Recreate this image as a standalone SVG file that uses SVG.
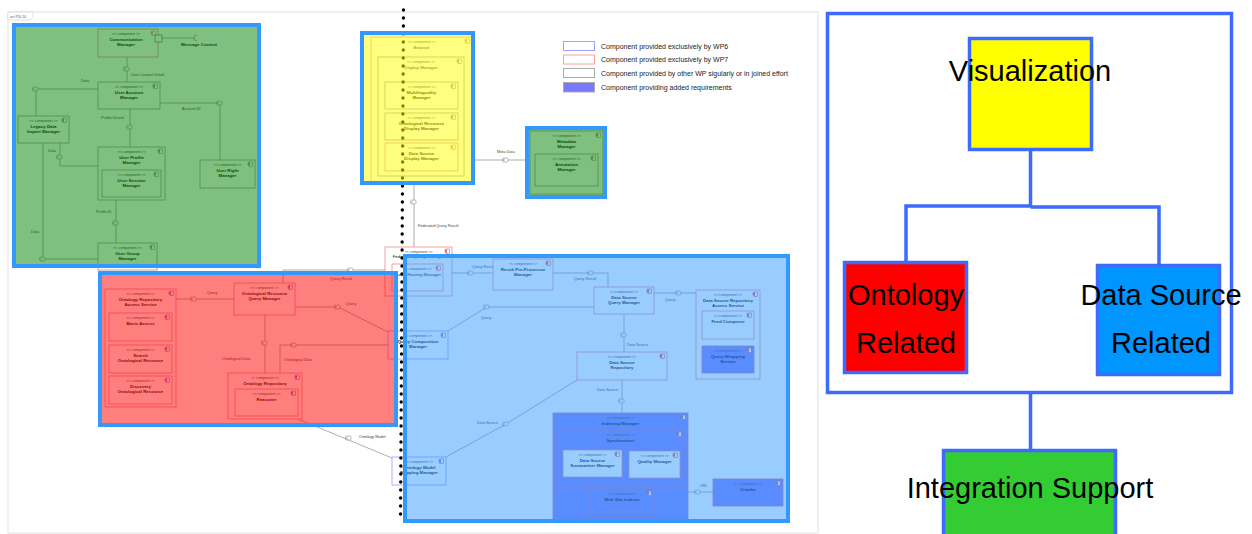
<svg xmlns="http://www.w3.org/2000/svg" xmlns:xlink="http://www.w3.org/1999/xlink" width="1252" height="534" viewBox="0 0 1252 534">
<style>
.st{font-family:"Liberation Sans",Arial,sans-serif;font-size:3.6px;fill:#444;text-anchor:middle}
.nm{font-family:"Liberation Sans",Arial,sans-serif;font-size:4.4px;font-weight:bold;fill:#111;text-anchor:middle}
.lb{font-family:"Liberation Sans",Arial,sans-serif;font-size:3.8px;fill:#444}
.lg{font-family:"Liberation Sans",Arial,sans-serif;font-size:7px;fill:#222}
.big{font-family:"Liberation Sans",Arial,sans-serif;font-size:29px;fill:#000;text-anchor:middle}
.cg{fill:#fff;stroke:#9a9a9a;stroke-width:0.8}
.cr{fill:#fff;stroke:#f08a8a;stroke-width:0.8}
.cb{fill:#fff;stroke:#9a9aff;stroke-width:0.8}
.cd{fill:#7f7fff;stroke:#d07090;stroke-width:0.8}
.con{fill:none;stroke:#9a9a9a;stroke-width:0.8}
.ov{stroke:#3399ff;stroke-width:4}
.rc{fill:none;stroke:#3d6bff;stroke-width:3.5}
.rb{stroke:#3d6bff;stroke-width:3.5}
</style>
<defs>
<g id="lol"><circle r="2.2" fill="#fff" stroke="#8a8a8a" stroke-width="0.6"/><path d="M-2.4,-2.6 A3.6,3.6 0 0 0 -2.4,2.6" fill="none" stroke="#8a8a8a" stroke-width="0.6"/></g>
<g id="ic" fill="#fff" stroke-width="0.5"><rect x="0.8" y="0" width="3.6" height="4.6"/><rect x="0" y="0.9" width="1.8" height="0.9"/><rect x="0" y="2.7" width="1.8" height="0.9"/></g>
</defs>
<rect width="1252" height="534" fill="#fff"/>

<g id="frame">
<rect x="8" y="12" width="810" height="521" fill="none" stroke="#e2e2e2" stroke-width="1"/>
<path d="M8,12 H33 V17 L30,20 H8 Z" fill="#fff" stroke="#cfcfcf" stroke-width="0.6"/>
<text x="10" y="18" style="font-family:'Liberation Sans',sans-serif;font-size:3.4px;fill:#555">act P10.10</text>
</g>

<g id="connectors">
<path class="con" d="M162,38 H194"/>
<path d="M197,35 A3,3 0 0 0 197,41" fill="none" stroke="#8a8a8a" stroke-width="0.7"/>
<path class="con" d="M127,57 V82"/>
<path class="con" d="M98,89 H36 V116"/>
<path class="con" d="M160,103 H220 V160"/>
<path class="con" d="M130,109 V147"/>
<path class="con" d="M60,143 V166 H98"/>
<path class="con" d="M116,200 V243"/>
<path class="con" d="M43,143 V259 H98"/>
<path class="con" d="M458,160 H530"/>
<path class="con" d="M414,176 V247"/>
<path class="con" d="M176,299 H234"/>
<path class="con" d="M265,315 V373"/>
<path class="con" d="M280,373 V345 H388"/>
<path class="con" d="M295,307 H338 L388,332"/>
<path class="con" d="M283,283 V270 H385"/>
<path class="con" d="M298,419 L392,458"/>
<path class="con" d="M443,273 H493"/>
<path class="con" d="M553,273 H608 V287"/>
<path class="con" d="M654,293 H696"/>
<path class="con" d="M594,307 H487 L448,331"/>
<path class="con" d="M624,314 V352"/>
<path class="con" d="M622,380 V413"/>
<path class="con" d="M577,380 L506,424 L446,457"/>
<path class="con" d="M688,492 H713"/>
<use href="#lol" x="127" y="69"/>
<use href="#lol" x="36" y="89"/>
<use href="#lol" x="220" y="103"/>
<use href="#lol" x="130" y="127"/>
<use href="#lol" x="60" y="157"/>
<use href="#lol" x="116" y="223"/>
<use href="#lol" x="43" y="259"/>
<use href="#lol" x="506" y="160"/>
<use href="#lol" x="414" y="202"/>
<use href="#lol" x="194" y="299"/>
<use href="#lol" x="265" y="343"/>
<use href="#lol" x="294" y="345"/>
<use href="#lol" x="338" y="307"/>
<use href="#lol" x="351" y="270"/>
<use href="#lol" x="349" y="438"/>
<use href="#lol" x="471" y="273"/>
<use href="#lol" x="591" y="273"/>
<use href="#lol" x="679" y="293"/>
<use href="#lol" x="487" y="307"/>
<use href="#lol" x="624" y="335"/>
<use href="#lol" x="622" y="401"/>
<use href="#lol" x="506" y="424"/>
<use href="#lol" x="698" y="492"/>
<text class="nm" x="199" y="46" style="text-anchor:middle">Message Context</text>
<text class="lb" x="131" y="76">User Contact Detail</text>
<text class="lb" x="81" y="82">Data</text>
<text class="lb" x="182" y="110">Account ID</text>
<text class="lb" x="101" y="119">Profile Details</text>
<text class="lb" x="48" y="152">Data</text>
<text class="lb" x="96" y="213">Profile ID</text>
<text class="lb" x="31" y="233">Data</text>
<text class="lb" x="497" y="153">Meta Data</text>
<text class="lb" x="418" y="227">Federated Query Result</text>
<text class="lb" x="207" y="294">Query</text>
<text class="lb" x="222" y="360">Ontological Data</text>
<text class="lb" x="284" y="361">Ontological Data</text>
<text class="lb" x="346" y="305">Query</text>
<text class="lb" x="330" y="280">Query Result</text>
<text class="lb" x="359" y="438">Ontology Model</text>
<text class="lb" x="472" y="268">Query Result</text>
<text class="lb" x="574" y="280">Query Result</text>
<text class="lb" x="665" y="301">Query</text>
<text class="lb" x="481" y="319">Query</text>
<text class="lb" x="627" y="346">Data Source</text>
<text class="lb" x="597" y="391">Data Source</text>
<text class="lb" x="477" y="424">Data Source</text>
<text class="lb" x="700" y="487">URL</text>
</g>

<g id="comp-communication-manager"><rect class="cr" x="98" y="29" width="60" height="28"/><use href="#ic" x="151" y="31" stroke="#e08040"/><text class="st" x="126" y="35">&lt;&lt; component &gt;&gt;</text><text class="nm" x="126" y="41">Communication</text><text class="nm" x="126" y="46">Manager</text>
<rect x="155" y="35" width="7" height="7" fill="#fff" stroke="#555" stroke-width="0.6"/></g>
<g id="comp-user-account-manager"><rect class="cg" x="98" y="82" width="62" height="27"/><use href="#ic" x="153" y="84" stroke="#777"/><text class="st" x="129" y="88">&lt;&lt; component &gt;&gt;</text><text class="nm" x="129" y="94">User Account</text><text class="nm" x="129" y="99">Manager</text></g>
<g id="comp-legacy-data-import-manager"><rect class="cg" x="18" y="116" width="51" height="27"/><use href="#ic" x="62" y="118" stroke="#777"/><text class="st" x="43.5" y="122">&lt;&lt; component &gt;&gt;</text><text class="nm" x="43.5" y="128">Legacy Data</text><text class="nm" x="43.5" y="133">Import Manager</text></g>
<g id="comp-user-right-manager"><rect class="cg" x="200" y="160" width="55" height="28"/><use href="#ic" x="248" y="162" stroke="#777"/><text class="st" x="227.5" y="166">&lt;&lt; component &gt;&gt;</text><text class="nm" x="227.5" y="172">User Right</text><text class="nm" x="227.5" y="177">Manager</text></g>
<g id="comp-user-profile-manager"><rect class="cg" x="98" y="147" width="67" height="53"/><use href="#ic" x="158" y="149" stroke="#777"/><text class="st" x="131.5" y="153">&lt;&lt; component &gt;&gt;</text><text class="nm" x="131.5" y="159">User Profile</text><text class="nm" x="131.5" y="164">Manager</text>
<rect class="cg" x="102" y="170" width="59" height="27"/><use href="#ic" x="154" y="172" stroke="#777"/><text class="st" x="131.5" y="176">&lt;&lt; component &gt;&gt;</text><text class="nm" x="131.5" y="182">User Session</text><text class="nm" x="131.5" y="187">Manager</text></g>
<g id="comp-user-group-manager"><rect class="cg" x="98" y="243" width="59" height="27"/><use href="#ic" x="150" y="245" stroke="#777"/><text class="st" x="127.5" y="249">&lt;&lt; component &gt;&gt;</text><text class="nm" x="127.5" y="255">User Group</text><text class="nm" x="127.5" y="260">Manager</text></g>

<g id="comp-browser"><rect class="cr" x="371" y="37" width="101" height="145"/><use href="#ic" x="465" y="39" stroke="#e08040"/><text class="st" x="421.5" y="43">&lt;&lt; component &gt;&gt;</text><text class="nm" x="421.5" y="49" style="font-weight:normal">Browser</text>
<rect class="cg" x="378" y="57" width="86" height="119"/><use href="#ic" x="457" y="59" stroke="#777"/><text class="st" x="421" y="63">&lt;&lt; component &gt;&gt;</text><text class="nm" x="421" y="69" style="font-weight:normal">Display Manager</text>
<rect class="cg" x="385" y="82" width="73" height="27"/><use href="#ic" x="451" y="84" stroke="#777"/><text class="st" x="421.5" y="88">&lt;&lt; component &gt;&gt;</text><text class="nm" x="421.5" y="94">Multilinguality</text><text class="nm" x="421.5" y="99">Manager</text>
<rect class="cg" x="385" y="113" width="73" height="27"/><use href="#ic" x="451" y="115" stroke="#777"/><text class="st" x="421.5" y="119">&lt;&lt; component &gt;&gt;</text><text class="nm" x="421.5" y="125">Ontological Resource</text><text class="nm" x="421.5" y="130">Display Manager</text>
<rect class="cr" x="385" y="143" width="73" height="28"/><use href="#ic" x="451" y="145" stroke="#e08040"/><text class="st" x="421.5" y="149">&lt;&lt; component &gt;&gt;</text><text class="nm" x="421.5" y="155">Data Source</text><text class="nm" x="421.5" y="160">Display Manager</text></g>

<g id="comp-metadata-manager"><rect class="cg" x="530" y="131" width="73" height="63"/><use href="#ic" x="596" y="133" stroke="#b07030"/><text class="st" x="566.5" y="137">&lt;&lt; component &gt;&gt;</text><text class="nm" x="566.5" y="143">Metadata</text><text class="nm" x="566.5" y="148">Manager</text>
<rect class="cg" x="535" y="154" width="63" height="32"/><use href="#ic" x="591" y="156" stroke="#b07030"/><text class="st" x="566.5" y="160">&lt;&lt; component &gt;&gt;</text><text class="nm" x="566.5" y="166">Annotation</text><text class="nm" x="566.5" y="171">Manager</text></g>

<g id="comp-ontology-repository-access-service"><rect class="cr" x="105" y="289" width="71" height="118"/><use href="#ic" x="169" y="291" stroke="#9040c0"/><text class="st" x="140.5" y="295">&lt;&lt; component &gt;&gt;</text><text class="nm" x="140.5" y="301">Ontology Repository</text><text class="nm" x="140.5" y="306">Access Service</text>
<rect class="cr" x="109" y="313" width="63" height="28"/><use href="#ic" x="165" y="315" stroke="#9040c0"/><text class="st" x="140.5" y="319">&lt;&lt; component &gt;&gt;</text><text class="nm" x="140.5" y="325">Basic Access</text>
<rect class="cr" x="109" y="345" width="63" height="28"/><use href="#ic" x="165" y="347" stroke="#9040c0"/><text class="st" x="140.5" y="351">&lt;&lt; component &gt;&gt;</text><text class="nm" x="140.5" y="357">Search</text><text class="nm" x="140.5" y="362">Ontological Resource</text>
<rect class="cr" x="109" y="376" width="63" height="28"/><use href="#ic" x="165" y="378" stroke="#9040c0"/><text class="st" x="140.5" y="382">&lt;&lt; component &gt;&gt;</text><text class="nm" x="140.5" y="388">Discovery</text><text class="nm" x="140.5" y="393">Ontological Resource</text></g>
<g id="comp-ontological-resource-query-manager"><rect class="cr" x="234" y="283" width="61" height="32"/><use href="#ic" x="288" y="285" stroke="#9040c0"/><text class="st" x="264.5" y="289">&lt;&lt; component &gt;&gt;</text><text class="nm" x="264.5" y="295">Ontological Resource</text><text class="nm" x="264.5" y="300">Query Manager</text></g>
<g id="comp-ontology-repository"><rect class="cr" x="228" y="373" width="74" height="46"/><use href="#ic" x="295" y="375" stroke="#9040c0"/><text class="st" x="265" y="379">&lt;&lt; component &gt;&gt;</text><text class="nm" x="265" y="385">Ontology Repository</text>
<rect class="cr" x="235" y="389" width="63" height="27"/><use href="#ic" x="291" y="391" stroke="#9040c0"/><text class="st" x="266.5" y="395">&lt;&lt; component &gt;&gt;</text><text class="nm" x="266.5" y="401">Reasoner</text></g>

<g id="comp-federated-query-manager"><rect class="cr" x="385" y="247" width="67" height="49"/><use href="#ic" x="445" y="249" stroke="#e04040"/><text class="st" x="418.5" y="253">&lt;&lt; component &gt;&gt;</text><text class="nm" x="418.5" y="258" style="font-weight:normal">Federated Query Manager</text>
<rect class="cr" x="392" y="264" width="51" height="27"/><use href="#ic" x="436" y="266" stroke="#e04040"/><text class="st" x="417.5" y="270">&lt;&lt; component &gt;&gt;</text><text class="nm" x="417.5" y="276" style="font-weight:normal">Query Routing Manager</text></g>
<g id="comp-result-pre-processor-manager"><rect class="cr" x="493" y="259" width="60" height="31"/><use href="#ic" x="546" y="261" stroke="#c03040"/><text class="st" x="523" y="265">&lt;&lt; component &gt;&gt;</text><text class="nm" x="523" y="271">Result Pre-Processor</text><text class="nm" x="523" y="276">Manager</text></g>
<g id="comp-data-source-query-manager"><rect class="cr" x="594" y="287" width="60" height="27"/><use href="#ic" x="647" y="289" stroke="#c03040"/><text class="st" x="624" y="293">&lt;&lt; component &gt;&gt;</text><text class="nm" x="624" y="299">Data Source</text><text class="nm" x="624" y="304">Query Manager</text></g>
<g id="comp-data-source-repository-access-service"><rect class="cr" x="696" y="290" width="64" height="89"/><use href="#ic" x="753" y="292" stroke="#c03040"/><text class="st" x="728" y="296">&lt;&lt; component &gt;&gt;</text><text class="nm" x="728" y="302">Data Source Repository</text><text class="nm" x="728" y="307">Access Service</text>
<rect class="cr" x="702" y="311" width="52" height="28"/><use href="#ic" x="747" y="313" stroke="#c03040"/><text class="st" x="728" y="317">&lt;&lt; component &gt;&gt;</text><text class="nm" x="728" y="323">Feed Composer</text>
<rect class="cd" x="702" y="346" width="52" height="27"/><use href="#ic" x="747" y="348" stroke="#c03040"/><text class="st" x="728" y="352">&lt;&lt; component &gt;&gt;</text><text class="nm" x="728" y="358">Query Wrapping</text><text class="nm" x="728" y="363">Service</text></g>
<g id="comp-query-composition-manager"><rect class="cb" x="388" y="331" width="60" height="28"/><use href="#ic" x="441" y="333" stroke="#4060ff"/><text class="st" x="418" y="337">&lt;&lt; component &gt;&gt;</text><text class="nm" x="418" y="343">Query Composition</text><text class="nm" x="418" y="348">Manager</text></g>
<g id="comp-data-source-repository"><rect class="cr" x="577" y="352" width="90" height="28"/><use href="#ic" x="660" y="354" stroke="#c03040"/><text class="st" x="622" y="358">&lt;&lt; component &gt;&gt;</text><text class="nm" x="622" y="364">Data Source</text><text class="nm" x="622" y="369">Repository</text></g>
<g id="comp-ontology-model-mapping-manager"><rect class="cb" x="392" y="457" width="54" height="28"/><use href="#ic" x="439" y="459" stroke="#4060ff"/><text class="st" x="419" y="463">&lt;&lt; component &gt;&gt;</text><text class="nm" x="419" y="469">Ontology Model</text><text class="nm" x="419" y="474">Mapping Manager</text></g>
<g id="comp-indexing-manager"><rect class="cd" x="553" y="413" width="135" height="109"/><use href="#ic" x="681" y="415" stroke="#c03040"/><text class="st" x="620.5" y="419">&lt;&lt; component &gt;&gt;</text><text class="nm" x="620.5" y="425">Indexing Manager</text>
<rect class="cd" x="557" y="430" width="127" height="56"/><use href="#ic" x="677" y="432" stroke="#c03040"/><text class="st" x="620.5" y="436">&lt;&lt; component &gt;&gt;</text><text class="nm" x="620.5" y="442">Synchronizer</text>
<rect class="cr" x="563" y="450" width="59" height="27"/><use href="#ic" x="615" y="452" stroke="#c03040"/><text class="st" x="592.5" y="456">&lt;&lt; component &gt;&gt;</text><text class="nm" x="592.5" y="462">Data Source</text><text class="nm" x="592.5" y="467">Summarizer Manager</text>
<rect class="cr" x="629" y="451" width="51" height="27"/><use href="#ic" x="673" y="453" stroke="#c03040"/><text class="st" x="654.5" y="457">&lt;&lt; component &gt;&gt;</text><text class="nm" x="654.5" y="463">Quality Manager</text>
<rect class="cd" x="590" y="489" width="64" height="28"/><use href="#ic" x="647" y="491" stroke="#c03040"/><text class="st" x="622" y="495">&lt;&lt; component &gt;&gt;</text><text class="nm" x="622" y="501">Web Site Indexer</text></g>
<g id="comp-crawler"><rect class="cd" x="713" y="479" width="70" height="27"/><use href="#ic" x="776" y="481" stroke="#c03040"/><text class="st" x="748" y="485">&lt;&lt; component &gt;&gt;</text><text class="nm" x="748" y="491">Crawler</text></g>

<line id="divider" x1="403.5" y1="10" x2="400.5" y2="521" stroke="#000" stroke-width="3.4" stroke-linecap="round" stroke-dasharray="0 8"/>

<g id="overlays">
<rect class="ov" x="14" y="25" width="245" height="241" fill="#008000" fill-opacity="0.5"/>
<rect class="ov" x="362" y="33" width="111" height="150" fill="#ffff00" fill-opacity="0.5"/>
<rect class="ov" x="527" y="128" width="78" height="69" fill="#008000" fill-opacity="0.5"/>
<rect class="ov" x="100" y="273" width="296" height="152" fill="#ff0000" fill-opacity="0.5"/>
<rect class="ov" x="405" y="256" width="383" height="265" fill="#3399ff" fill-opacity="0.5"/>
</g>

<g id="legend">
<rect x="563.5" y="41.5" width="31" height="9" fill="#fff" stroke="#a0a0ff" stroke-width="1"/>
<text class="lg" x="601" y="48.5">Component provided exclusively by WP6</text>
<rect x="563.5" y="55" width="31" height="9" fill="#fff" stroke="#ffa0a0" stroke-width="1"/>
<text class="lg" x="601" y="62">Component provided exclusively by WP7</text>
<rect x="563.5" y="68.5" width="31" height="9" fill="#fff" stroke="#aaa" stroke-width="1"/>
<text class="lg" x="601" y="75.5">Component provided by other WP sigularly or in joined effort</text>
<rect x="563.5" y="82.5" width="31" height="9.5" fill="#7878f8" stroke="#aaa" stroke-width="1"/>
<text class="lg" x="601" y="89.5">Component providing added requirements</text>
</g>

<g id="right-connectors">
<path class="rc" d="M1030.5,150 V206 M906,262 V206 H1030.5 M1030.5,207 H1159 V265 M1030.5,393 V450"/>
</g>
<g id="right-group"><rect class="rc" x="827.5" y="13.5" width="404" height="379"/></g>
<g id="node-visualization"><rect class="rb" x="969.5" y="38.5" width="122" height="111" fill="#ffff00"/><text class="big" x="1030" y="81">Visualization</text></g>
<g id="node-ontology"><rect class="rb" x="844.5" y="262.5" width="122" height="110" fill="#ff0000"/><text class="big" x="906" y="305">Ontology</text><text class="big" x="906" y="353">Related</text></g>
<g id="node-datasource"><rect class="rb" x="1097.5" y="265.5" width="122" height="109" fill="#0096ff"/><text class="big" x="1161" y="305">Data Source</text><text class="big" x="1161" y="353">Related</text></g>
<g id="node-integration"><rect class="rb" x="943.5" y="450.5" width="172" height="95" fill="#33cc33"/><text class="big" x="1030" y="498">Integration Support</text></g>
</svg>
